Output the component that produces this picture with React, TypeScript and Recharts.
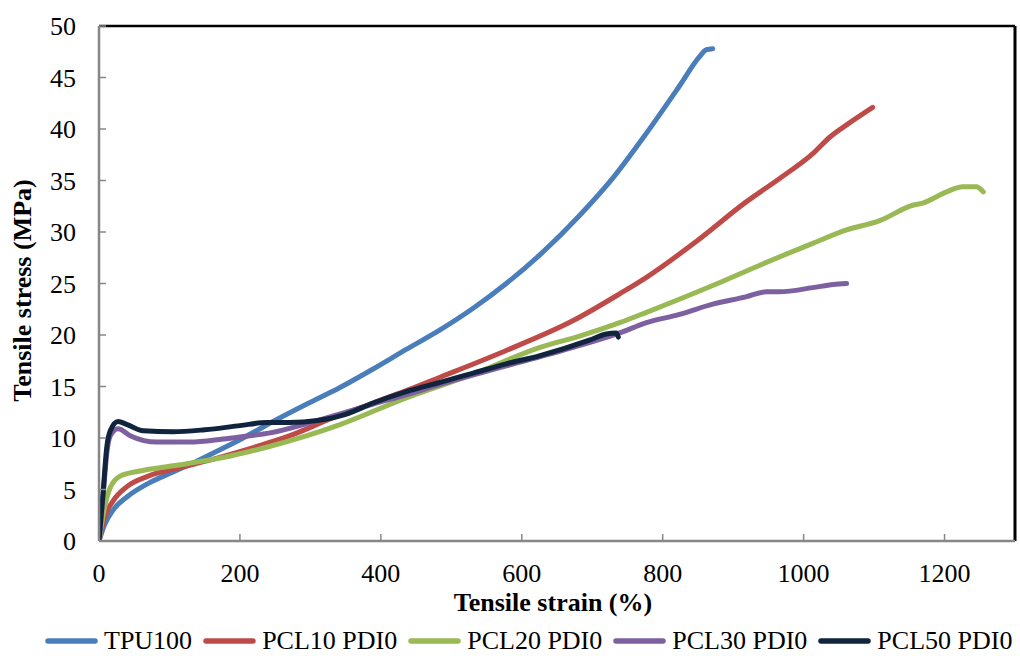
import React from 'react';
import { LineChart, Line, XAxis, YAxis, ReferenceLine, Legend } from 'recharts';

const FONT = "'Liberation Serif', 'Times New Roman', serif";

const tpuStrain = [0, 8, 20, 40, 70, 105, 140, 176, 210, 247, 295, 342, 389, 436, 484, 531, 578, 626, 682, 730, 777, 824, 852, 862, 871];
const tpuStress = [0, 1.6, 3.0, 4.3, 5.6, 6.7, 7.8, 9.0, 10.2, 11.6, 13.3, 14.9, 16.7, 18.6, 20.5, 22.6, 25.0, 27.8, 31.6, 35.3, 39.6, 44.2, 47.0, 47.7, 47.8];

const pcl10Strain = [0, 8, 20, 40, 70, 120, 170, 220, 270, 330, 389, 436, 484, 578, 673, 739, 777, 848, 918, 966, 1013, 1037, 1061, 1098];
const pcl10Stress = [0, 2.3, 3.9, 5.3, 6.3, 7.2, 8.1, 9.1, 10.2, 11.9, 13.4, 14.6, 15.9, 18.5, 21.4, 24.0, 25.6, 29.1, 32.9, 35.2, 37.6, 39.2, 40.4, 42.1];

const pcl20Strain = [0, 6, 16, 30, 58, 105, 176, 243, 342, 436, 531, 626, 682, 739, 777, 871, 942, 1013, 1061, 1108, 1155, 1169, 1203, 1226, 1245, 1255];
const pcl20Stress = [0, 2.6, 5.2, 6.3, 6.8, 7.3, 8.1, 9.2, 11.3, 13.9, 16.2, 18.8, 19.9, 21.2, 22.2, 24.8, 26.9, 28.9, 30.2, 31.1, 32.6, 32.8, 33.9, 34.4, 34.4, 33.9];

const pcl30Strain = [0, 6, 11, 16, 27, 45, 82, 129, 176, 200, 243, 295, 340, 389, 436, 484, 578, 673, 739, 777, 824, 871, 918, 947, 966, 1013, 1042, 1061];
const pcl30Stress = [0, 4.5, 8.5, 10.2, 10.9, 10.2, 9.6, 9.6, 9.9, 10.1, 10.5, 11.4, 12.3, 13.3, 14.2, 15.2, 17.0, 18.8, 20.2, 21.2, 22.0, 23.0, 23.7, 24.2, 24.2, 24.6, 24.9, 25.0];

const pcl50Strain = [0, 6, 11, 16, 27, 40, 63, 105, 150, 200, 238, 270, 310, 350, 389, 436, 484, 531, 578, 626, 696, 720, 734, 737];
const pcl50Stress = [0, 4.9, 9.1, 10.7, 11.6, 11.3, 10.7, 10.6, 10.8, 11.2, 11.5, 11.5, 11.7, 12.3, 13.4, 14.5, 15.4, 16.3, 17.2, 18.0, 19.5, 20.1, 20.2, 19.8];

const seriesNames = ['TPU100', 'PCL10 PDI0', 'PCL20 PDI0', 'PCL30 PDI0', 'PCL50 PDI0'];
const seriesColors = ['#4A7EBB', '#BE4B48', '#98B954', '#7D60A0', '#10243E'];

const xMajorTicks = [0, 200, 400, 600, 800, 1000, 1200];
const xMinorTicks = [0, 40, 80, 120, 160, 200, 240, 280, 320, 360, 400, 440, 480, 520, 560, 600, 640, 680, 720, 760, 800, 840, 880, 920, 960, 1000, 1040, 1080, 1120, 1160, 1200, 1240, 1280];
const yTicks = [0, 5, 10, 15, 20, 25, 30, 35, 40, 45, 50];

const toPoints = (strain: number[], stress: number[]) =>
  strain.map((x, i) => ({ strain: x, stress: stress[i] }));

const seriesData = [
  toPoints(tpuStrain, tpuStress),
  toPoints(pcl10Strain, pcl10Stress),
  toPoints(pcl20Strain, pcl20Stress),
  toPoints(pcl30Strain, pcl30Stress),
  toPoints(pcl50Strain, pcl50Stress),
];

const AXIS_GRAY = '#878787';

const LegendContent = (props: any) => {
  const payload = [...(props.payload || [])].sort(
    (a: any, b: any) => seriesNames.indexOf(a.value) - seriesNames.indexOf(b.value)
  );
  return (
    <div style={{ display: 'flex', alignItems: 'center', height: 30, paddingLeft: 45, fontFamily: FONT, fontSize: 26, color: '#000', whiteSpace: 'nowrap' }}>
      {payload.map((p: any, i: number) => (
        <div key={i} style={{ display: 'flex', alignItems: 'center', marginRight: 11 }}>
          <svg width={53} height={10} style={{ display: 'block' }}>
            <line x1={3} y1={5} x2={50} y2={5} stroke={p.color} strokeWidth={5.5} strokeLinecap="round" />
          </svg>
          <span style={{ marginLeft: 6, lineHeight: '30px' }}>{p.value}</span>
        </div>
      ))}
    </div>
  );
};

const XLabel = (props: any) => {
  const vb = props.viewBox || { x: 99, y: 541, width: 916, height: 85 };
  return (
    <text x={vb.x + vb.width / 2 - 4} y={vb.y + 70} textAnchor="middle" fontFamily={FONT} fontSize={26} fontWeight="bold" fill="#000">
      Tensile strain (%)
    </text>
  );
};

const YLabel = (props: any) => {
  const vb = props.viewBox || { x: 0, y: 26, width: 99, height: 515 };
  const cx = 31;
  const cy = vb.y + vb.height / 2 + 7;
  return (
    <text x={cx} y={cy} transform={`rotate(-90, ${cx}, ${cy})`} textAnchor="middle" fontFamily={FONT} fontSize={26} fontWeight="bold" fill="#000">
      Tensile stress (MPa)
    </text>
  );
};

export default function App() {
  return (
    <div style={{ position: 'absolute', left: 0, top: 0, background: '#fff' }}>
      <LineChart width={1020} height={656} margin={{ top: 26, right: 5, left: 0, bottom: 0 }}>
        <XAxis
          xAxisId="minor"
          type="number"
          domain={[0, 1300]}
          ticks={xMinorTicks}
          interval={0}
          tick={false}
          axisLine={false}
          tickSize={-4}
          tickLine={{ stroke: AXIS_GRAY, strokeWidth: 1.5 }}
          height={0}
          allowDataOverflow
        />
        <XAxis
          type="number"
          dataKey="strain"
          domain={[0, 1300]}
          ticks={xMajorTicks}
          interval={0}
          tickSize={-7}
          tickMargin={30}
          height={85}
          allowDataOverflow
          axisLine={{ stroke: AXIS_GRAY, strokeWidth: 2.5 }}
          tickLine={{ stroke: AXIS_GRAY, strokeWidth: 1.5 }}
          tick={{ fill: '#000', fontSize: 26, fontFamily: FONT }}
          label={{ content: XLabel }}
        />
        <YAxis
          type="number"
          domain={[0, 50]}
          ticks={yTicks}
          interval={0}
          width={99}
          tickSize={-7}
          tickMargin={30}
          allowDataOverflow
          axisLine={{ stroke: AXIS_GRAY, strokeWidth: 2.5 }}
          tickLine={{ stroke: AXIS_GRAY, strokeWidth: 1.5 }}
          tick={{ fill: '#000', fontSize: 26, fontFamily: FONT }}
          label={{ content: YLabel }}
        />
        <ReferenceLine y={50} stroke="#000" strokeWidth={2.5} />
        <ReferenceLine x={1300} stroke="#000" strokeWidth={3} />
        {seriesData.map((d, i) => (
          <Line
            key={seriesNames[i]}
            data={d}
            dataKey="stress"
            name={seriesNames[i]}
            type="monotone"
            stroke={seriesColors[i]}
            strokeWidth={5}
            strokeLinecap="round"
            strokeLinejoin="round"
            dot={false}
            activeDot={false}
            isAnimationActive={false}
          />
        ))}
        <Legend
          verticalAlign="bottom"
          align="left"
          content={LegendContent}
          wrapperStyle={{ left: 0, width: 1020, height: 30 }}
        />
      </LineChart>
    </div>
  );
}
